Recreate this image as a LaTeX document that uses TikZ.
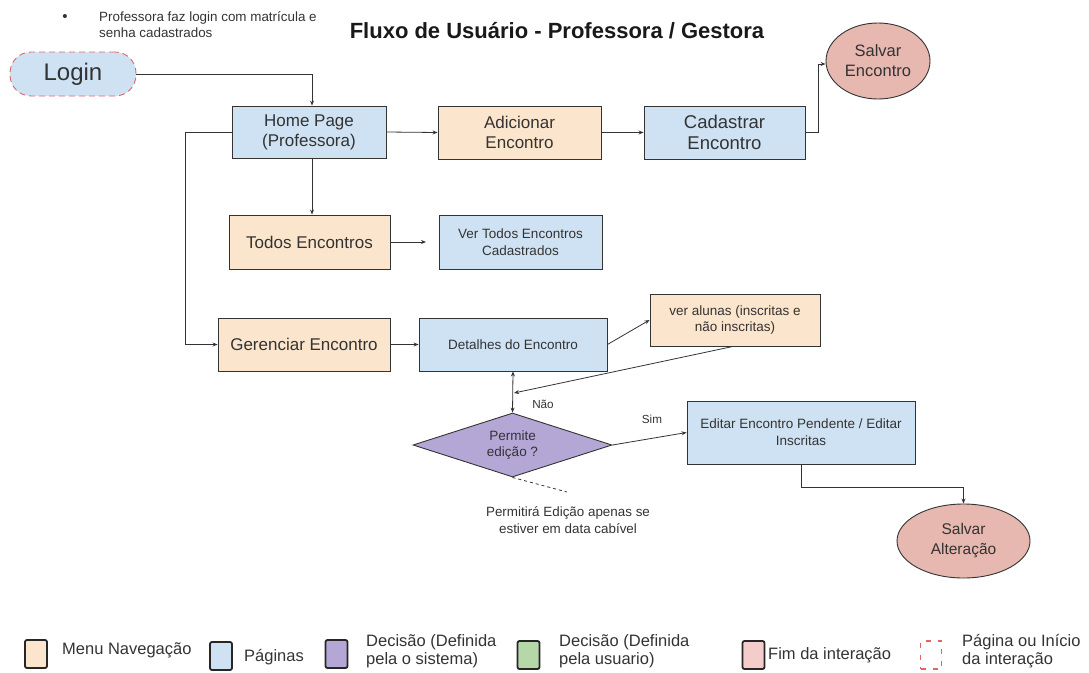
\documentclass[tikz,border=0pt]{standalone}
\usepackage{fontspec}
\setmainfont{Liberation Sans}
\usetikzlibrary{shapes.geometric,arrows.meta}
\definecolor{menuor}{HTML}{FCE5CD}
\definecolor{pageblue}{HTML}{CFE2F3}
\definecolor{decpurple}{HTML}{B4A7D6}
\definecolor{decgreen}{HTML}{B6D7A8}
\definecolor{endpink}{HTML}{F4CCCC}
\definecolor{ellpink}{HTML}{E6B8AF}
\definecolor{dashred}{HTML}{E06666}
\definecolor{txt}{HTML}{333333}
\tikzset{
  box/.style={draw=txt, line width=0.9pt, rectangle, inner sep=0pt, align=center, text=txt},
  pagebox/.style={box, fill=pageblue},
  menubox/.style={box, fill=menuor},
  endell/.style={draw=txt, line width=0.9pt, ellipse, inner sep=0pt, align=center, fill=ellpink, text=txt},
  conn/.style={draw=txt, line width=0.8pt, -{Stealth[length=5pt,width=4pt]}},
  legsq/.style={draw=black!85, line width=1.8pt, rounded corners=2pt, minimum width=22pt, minimum height=28pt, inner sep=0pt},
  lbl/.style={text=txt, inner sep=0pt, align=left},
  big/.style={font=\fontsize{17}{20}\selectfont},
  small/.style={font=\fontsize{13.5}{17}\selectfont},
  legtext/.style={lbl, anchor=west, font=\fontsize{16.5}{18}\selectfont},
}
\begin{document}
\begin{tikzpicture}[x=1pt,y=-1pt]
\useasboundingbox (0,0) rectangle (1089,672);
% title and note
\node[lbl, text=black!90, font=\bfseries\fontsize{22}{24}\selectfont] (title) at (557,31) {Fluxo de Usuário - Professora / Gestora};
\node[lbl, font=\fontsize{15}{16}\selectfont] (bullet) at (65,18) {•};
\node[lbl, anchor=west, font=\fontsize{13.4}{16}\selectfont] (note1) at (99,25) {Professora faz login com matrícula e\\senha cadastrados};
% nodes
\node[box, fill=pageblue, draw=dashred, dashed, dash pattern=on 6pt off 4pt, rounded corners=21pt, minimum width=126pt, minimum height=44pt, font=\fontsize{24}{26}\selectfont] (login) at (73,74) {Login};
\node[pagebox, big, minimum width=154pt, minimum height=52pt] (home) at (309,132) {Home Page\\(Professora)};
\node[menubox, big, minimum width=163pt, minimum height=53pt] (adic) at (519.5,132.5) {Adicionar\\Encontro};
\node[pagebox, font=\fontsize{18.5}{21}\selectfont, minimum width=161pt, minimum height=53pt] (cad) at (724.5,132.5) {Cadastrar\\Encontro};
\node[endell, font=\fontsize{16.5}{20}\selectfont, minimum width=104pt, minimum height=76pt] (salvE) at (878,61) {Salvar\\Encontro};
\node[menubox, big, minimum width=161pt, minimum height=54pt] (todos) at (309.5,242) {Todos Encontros};
\node[pagebox, small, minimum width=163pt, minimum height=54pt] (ver) at (520.5,242) {Ver Todos Encontros\\Cadastrados};
\node[menubox, big, minimum width=172pt, minimum height=53pt] (ger) at (304,344.5) {Gerenciar Encontro};
\node[pagebox, small, minimum width=188pt, minimum height=53pt] (det) at (513,344.5) {Detalhes do Encontro};
\node[menubox, small, minimum width=170pt, minimum height=52pt] (alunas) at (735,320) {ver alunas (inscritas e\\não inscritas)};
\node[draw=txt, line width=0.9pt, diamond, fill=decpurple, aspect=3.1, minimum width=199pt, minimum height=64pt, inner sep=0pt, align=center, text=txt, font=\fontsize{13.5}{16}\selectfont] (dec) at (512.5,445) {Permite\\edição ?};
\node[pagebox, small, minimum width=228pt, minimum height=63pt] (edit) at (801,432.5) {Editar Encontro Pendente / Editar\\Inscritas};
\node[endell, font=\fontsize{15.5}{20}\selectfont, minimum width=133pt, minimum height=74pt] (salvA) at (963.5,541) {Salvar\\Alteração};
% labels
\node[lbl, font=\fontsize{11.7}{12}\selectfont] (nao) at (543,404) {Não};
\node[lbl, font=\fontsize{11.7}{12}\selectfont] (sim) at (652,419) {Sim};
\node[lbl, align=center, font=\fontsize{13.4}{17}\selectfont] (obs) at (568,520.5) {Permitirá Edição apenas se\\estiver em data cabível};
% free coordinates
\coordinate (todosEnd) at (426,242);
\coordinate (alunasEnd) at (514,393);
\coordinate (obsEnd) at (567,492);
% connectors
\draw[conn] (login.east) -| ([xshift=3pt]home.north);
\draw[conn] (home.east) -- (adic.west);
\draw[conn] (adic.east) -- (cad.west);
\draw[conn] (cad.east) -- ++(13,0) |- ([yshift=-3pt]salvE.west);
\draw[conn] ([xshift=3pt]home.south) -- ([xshift=3pt]home.south |- todos.north);
\draw[conn] (home.west) -- ++(-46,0) |- (ger.west);
\draw[conn] (todos.east) -- (todosEnd);
\draw[conn] (ger.east) -- (det.west);
\draw[conn] (det.east) -- (alunas.west);
\draw[conn] ([xshift=-2pt]alunas.south) -- (alunasEnd);
\draw[conn, {Stealth[length=5pt,width=4pt]}-{Stealth[length=5pt,width=4pt]}] (det.south) -- (dec.north);
\draw[conn] (dec.east) -- (edit.west);
\draw[conn] (edit.south) -- ++(0,23) -| (salvA.north);
\draw[draw=txt, line width=0.8pt, dashed] (dec.south) -- (obsEnd);
% legend
\node[legsq, fill=menuor] (lg1) at (36,654) {};
\node[legtext] (lt1) at (62,650) {Menu Navegação};
\node[legsq, fill=pageblue] (lg2) at (221,656) {};
\node[legtext] (lt2) at (244,657) {Páginas};
\node[legsq, fill=decpurple] (lg3) at (336.5,654) {};
\node[legtext] (lt3) at (366,651) {Decisão (Definida\\pela o sistema)};
\node[legsq, fill=decgreen] (lg4) at (528.5,655) {};
\node[legtext] (lt4) at (559,651) {Decisão (Definida\\pela usuario)};
\node[legsq, fill=endpink] (lg5) at (753.5,655) {};
\node[legtext] (lt5) at (768,655) {Fim da interação};
\node[draw=dashred, line width=1.5pt, dashed, dash pattern=on 5pt off 7pt, minimum width=21pt, minimum height=28pt, inner sep=0pt] (lg6) at (931,655) {};
\node[legtext] (lt6) at (962,651) {Página ou Início\\da interação};
\end{tikzpicture}
\end{document}
